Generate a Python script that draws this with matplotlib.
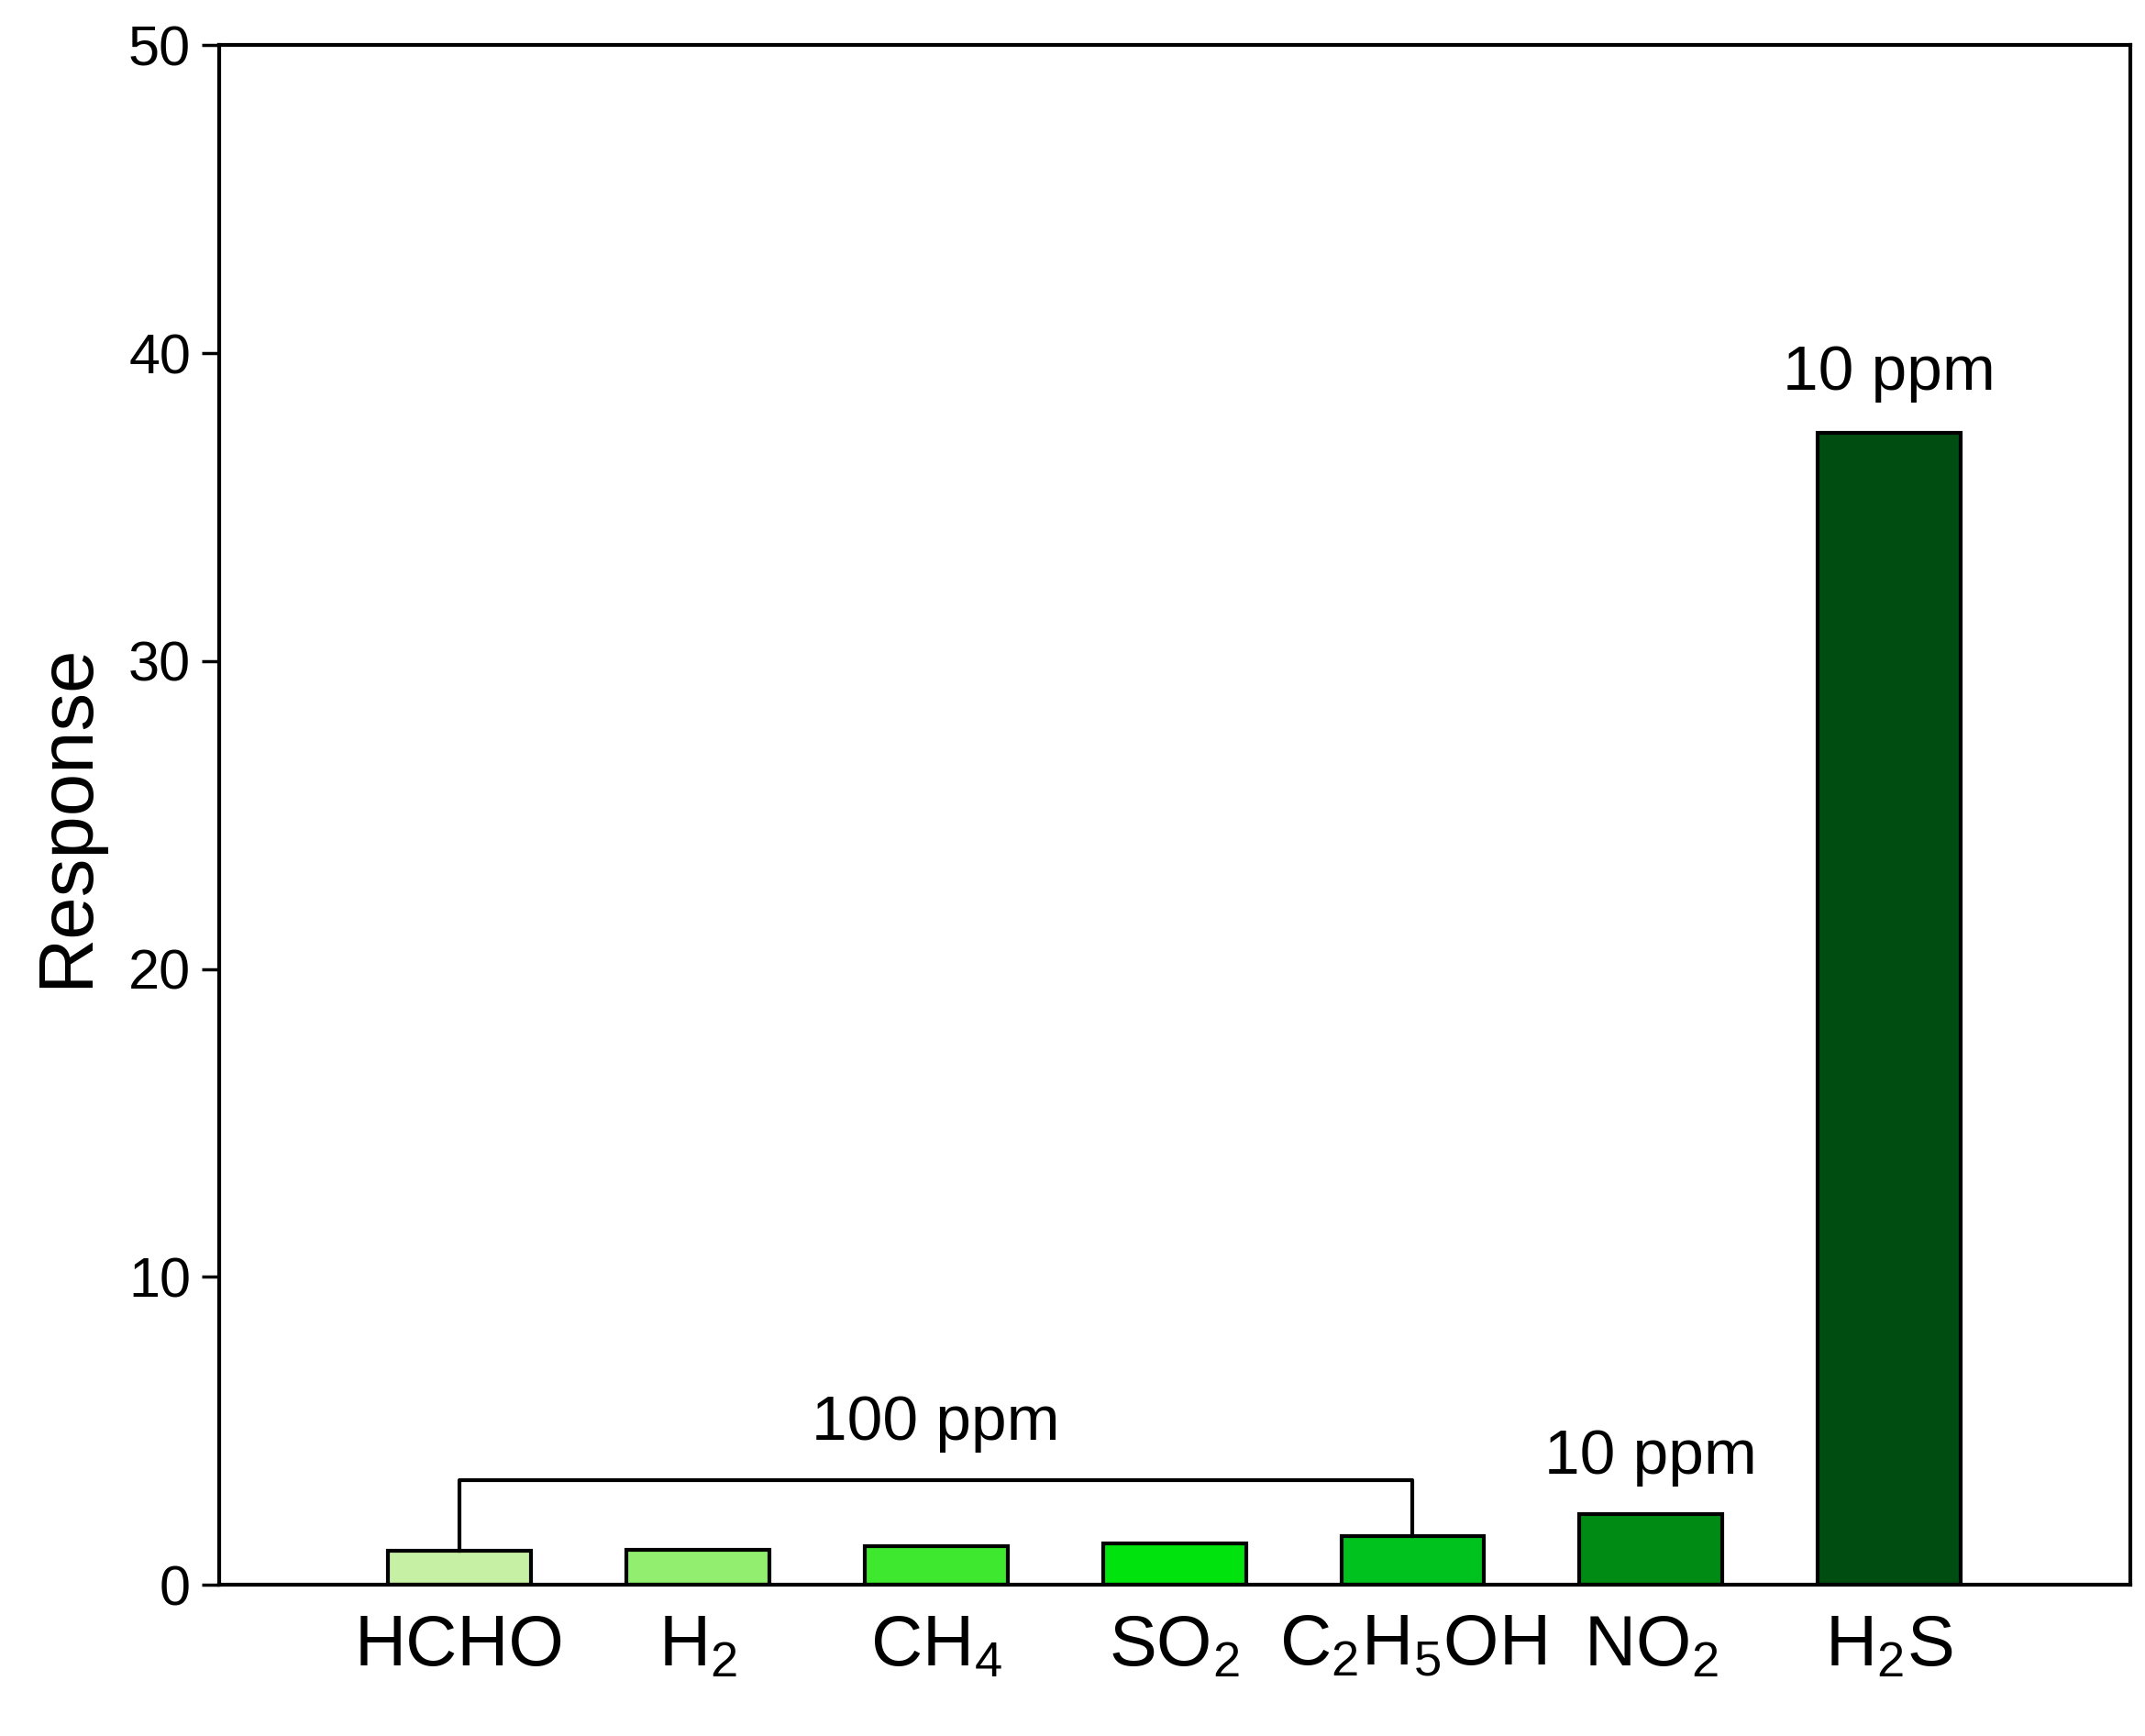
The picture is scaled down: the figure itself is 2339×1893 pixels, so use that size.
import matplotlib
matplotlib.use("Agg")
import matplotlib.pyplot as plt

plt.rcParams['font.family'] = ['Liberation Sans', 'DejaVu Sans']
plt.rcParams['mathtext.fontset'] = 'custom'
plt.rcParams['mathtext.rm'] = 'Liberation Sans'

labels = ['HCHO', r'H$_2$', r'CH$_4$', r'SO$_2$', r'C$_2$H$_5$OH', r'NO$_2$', r'H$_2$S']
values = [1.1, 1.15, 1.25, 1.35, 1.6, 2.3, 37.4]
colors = ['#c6f0a4', '#92ee6e', '#3ee82e', '#00e30c', '#00c21e', '#008c14', '#004d12']

fig = plt.figure(figsize=(23.39, 18.93), dpi=100)
ax = fig.add_axes([0.102, 0.087, 0.891, 0.887])
x = list(range(len(values)))
ax.bar(x, values, width=0.6, color=colors, edgecolor='black', linewidth=3)
ax.set_xlim(-1.01, 6.01 + 1.0)
ax.set_ylim(0, 50)
ax.set_yticks([0, 10, 20, 30, 40, 50])
ax.set_xticks(x)
ax.set_xticklabels(labels, fontsize=56)
ax.tick_params(axis='x', length=0, pad=22)
ax.tick_params(axis='y', labelsize=44, length=14, width=2.5, direction='out', pad=8)
for s in ax.spines.values():
    s.set_linewidth(3)
ax.set_ylabel('Response', fontsize=60, labelpad=20)

yb = 3.4
ax.plot([0, 0, 4, 4], [values[0], yb, yb, values[4]], color='black', lw=3)
ax.text(2, yb + 0.9, '100 ppm', ha='center', va='bottom', fontsize=50)
ax.text(5, values[5] + 0.9, '10 ppm', ha='center', va='bottom', fontsize=50)
ax.text(6, values[6] + 1.0, '10 ppm', ha='center', va='bottom', fontsize=50)

fig.savefig('out.png', dpi=100)
